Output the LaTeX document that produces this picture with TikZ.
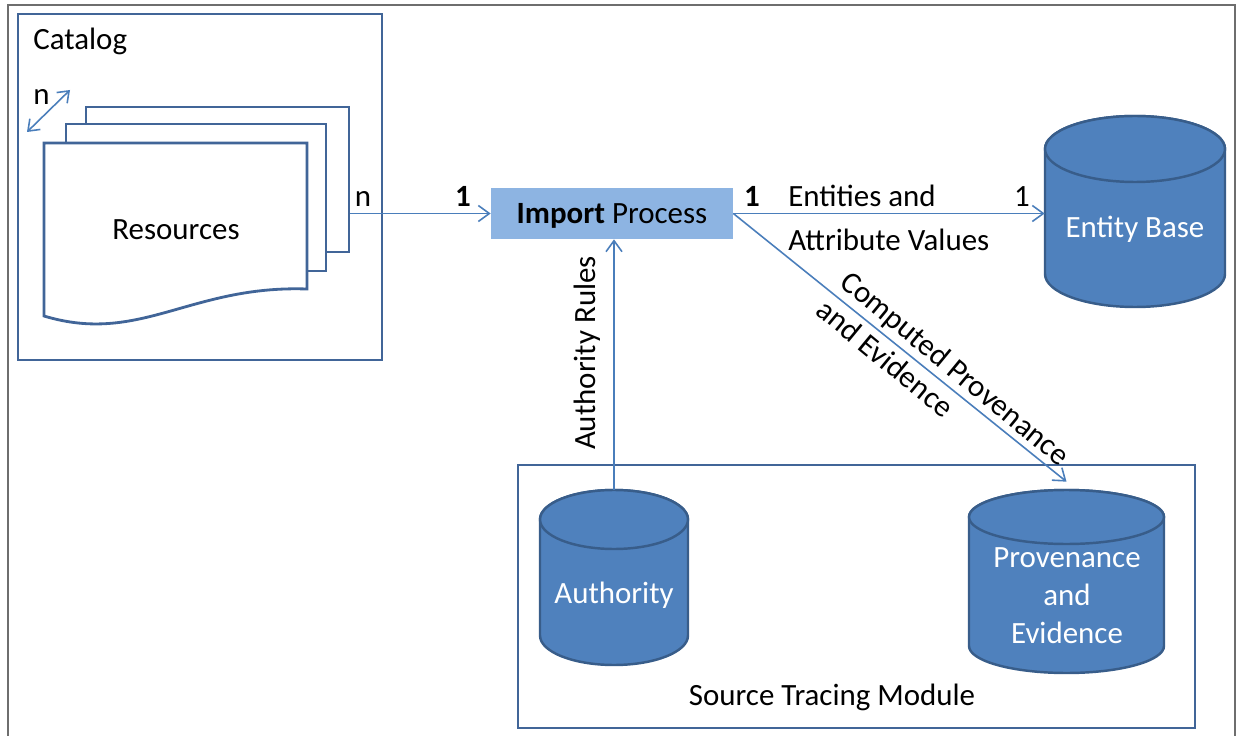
\documentclass[tikz,border=0pt]{standalone}
\usepackage{fontspec}
\setmainfont{Carlito}
\usetikzlibrary{arrows.meta}
\definecolor{boxblue}{RGB}{65,101,152}
\definecolor{connblue}{RGB}{74,126,187}
\definecolor{cylfill}{RGB}{79,129,189}
\definecolor{cylline}{RGB}{56,93,138}
\definecolor{impfill}{RGB}{141,180,226}
\definecolor{framegray}{RGB}{110,110,110}
\newcommand{\dbcyl}[5]{%
 \pgfmathsetmacro\cylcx{(#1+#2)/2}%
 \pgfmathsetmacro\cylrx{(#2-#1)/2}%
 \pgfmathsetmacro\cylkx{0.5523*\cylrx}%
 \pgfmathsetmacro\cylky{0.5523*#5}%
 \pgfmathsetmacro\cylyt{#3+#5}%
 \pgfmathsetmacro\cylyb{#4-#5}%
 \path[cyl] (#1,\cylyt) -- (#1,\cylyb) .. controls (#1,\cylyb+\cylky) and (\cylcx-\cylkx,#4) .. (\cylcx,#4) .. controls (\cylcx+\cylkx,#4) and (#2,\cylyb+\cylky) .. (#2,\cylyb) -- (#2,\cylyt) .. controls (#2,\cylyt-\cylky) and (\cylcx+\cylkx,#3) .. (\cylcx,#3) .. controls (\cylcx-\cylkx,#3) and (#1,\cylyt-\cylky) .. (#1,\cylyt) -- cycle;
 \draw[cyl] (\cylcx,\cylyt) ellipse [x radius=\cylrx, y radius=#5];
}
\begin{document}
\begin{tikzpicture}[x=0.02cm,y=-0.02cm,
  lbl/.style={font=\fontsize{17.6}{21}\selectfont, inner sep=0pt},
  wlbl/.style={lbl, text=white},
  boxline/.style={draw=boxblue, line width=1.6pt, inner sep=0pt},
  connline/.style={draw=connblue, line width=0.9pt},
  connector/.style={connline, -{Straight Barb[length=2.2mm,width=3.2mm]}},
  cyl/.style={fill=cylfill, draw=cylline, line width=1.4pt},
  holder/.style={inner sep=0pt},
]
\useasboundingbox (0,0) rectangle (1240,736);
\fill[white] (0,0) rectangle (1240,736);
\draw[framegray, line width=0.9pt] (8,745) -- (8,5) -- (1235,5) -- (1235,745);

% Catalog
\node[boxline, minimum width=7.28cm, minimum height=6.92cm] (catalog) at (200,187) {};
\node[lbl, anchor=base west] (catlabel) at (33,50) {Catalog};

% document stack
\node[boxline, fill=white, minimum width=5.26cm, minimum height=2.9cm] (doc3) at (217.5,179.5) {};
\node[boxline, fill=white, minimum width=5.2cm, minimum height=2.94cm] (doc2) at (196,197.5) {};
\draw[boxline, fill=white] (44,316) -- (44,143) -- (307,143) -- (307,289) .. controls (190,285) and (140,345) .. (44,316) -- cycle;
\node[lbl, anchor=base] (res) at (176,240) {Resources};

\coordinate (na) at (27,132);
\coordinate (nb) at (70,90);
\draw[connline, {Straight Barb[length=2mm,width=3mm]}-{Straight Barb[length=2mm,width=3mm]}] (na) -- (nb);
\node[lbl, anchor=base west] (nlab1) at (33,105) {n};
\node[lbl, anchor=base] (nlab2) at (363,207) {n};

% Import process
\node[holder, fill=impfill, minimum width=4.84cm, minimum height=1.02cm, lbl, text depth=0pt] (imp) at (612,213.5) {\textbf{Import} Process};

\draw[connector] (doc3.east |- imp.west) -- (imp.west);
\node[lbl, anchor=base] (one1) at (463,207) {\textbf{1}};
\node[lbl, anchor=base] (one2) at (752,207) {\textbf{1}};
\node[lbl, anchor=base west] (ea1) at (788,207) {Entities and};
\node[lbl, anchor=base west] (ea2) at (788,251) {Attribute Values};
\node[lbl, anchor=base] (one3) at (1022,207) {1};

% Entity base
\dbcyl{1045}{1225}{116}{307}{33}
\node[holder, minimum width=3.6cm, minimum height=3.82cm] (ent) at (1135,211.5) {};
\node[wlbl, anchor=base] (entlab) at (1135,238) {Entity Base};
\draw[connector] (imp.east) -- (imp.east -| ent.west);

% Source tracing module
\node[boxline, minimum width=13.54cm, minimum height=5.26cm] (stm) at (856.5,596.5) {};
\node[lbl, anchor=base] (stmlab) at (832,705) {Source Tracing Module};

% Authority
\dbcyl{540}{688}{490}{665}{29.5}
\node[holder, minimum width=2.96cm, minimum height=3.5cm] (auth) at (614,577.5) {};
\node[wlbl, anchor=base] (authlab) at (614,603) {Authority};
\draw[connector] (auth.north) -- (auth.north |- imp.south);
\node[lbl, rotate=90] (arlab) at (587,353) {Authority Rules};

% Provenance
\dbcyl{969}{1164}{490}{673}{27}
\node[holder, minimum width=3.9cm, minimum height=3.66cm] (prov) at (1066.5,581.5) {};
\node[wlbl, anchor=base] (pl1) at (1067,567) {Provenance};
\node[wlbl, anchor=base] (pl2) at (1067,605) {and};
\node[wlbl, anchor=base] (pl3) at (1067,643) {Evidence};
\draw[connector] (imp.east) -- ([yshift=0.16cm]prov.north);
\node[lbl, rotate=-39.5, anchor=north west, align=left] (cplab) at (852,268) {Computed Provenance\\and Evidence};
\end{tikzpicture}
\end{document}
